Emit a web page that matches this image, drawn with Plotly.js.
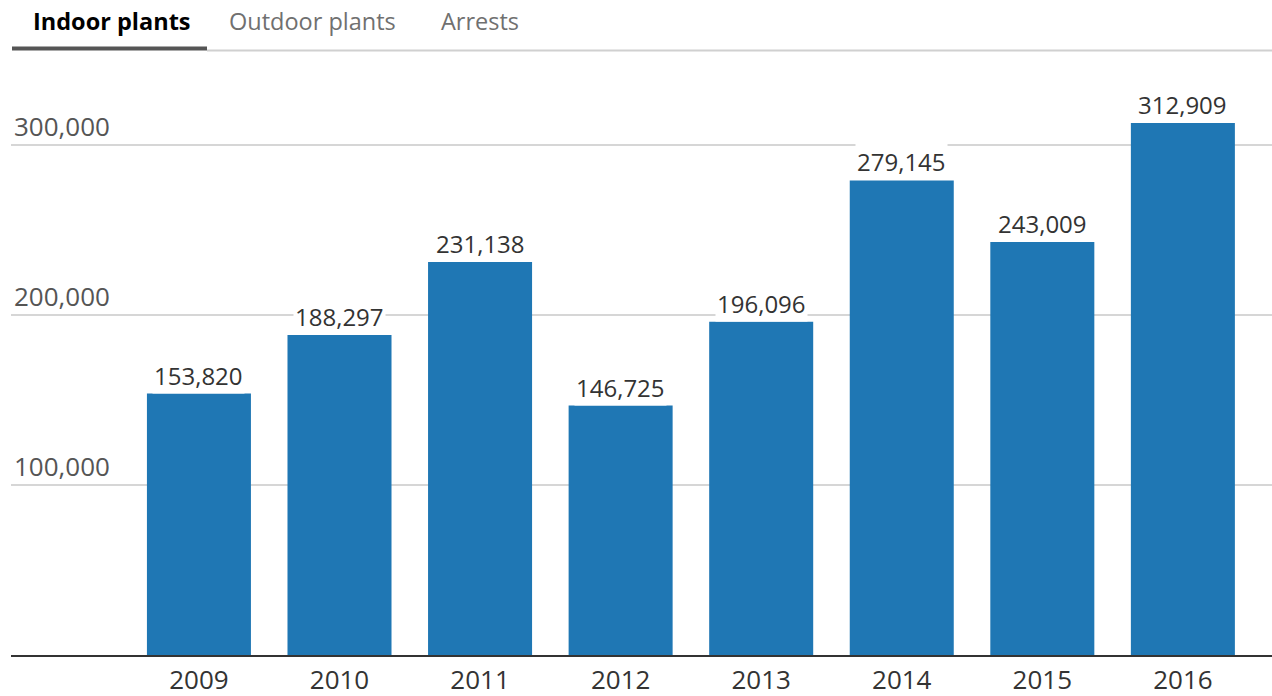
<!DOCTYPE html>
<html>
<head>
<meta charset="utf-8">
<script src="https://cdn.plot.ly/plotly-3.0.1.min.js"></script>
<style>
  html, body { margin: 0; padding: 0; background: #fff; }
  #chart { width: 1272px; height: 696px; }
</style>
</head>
<body>
<div id="chart"></div>
<script>
const years = ['2009', '2010', '2011', '2012', '2013', '2014', '2015', '2016'];
const indoorPlants = [153820, 188297, 231138, 146725, 196096, 279145, 243009, 312909];
const yTickValues = [100000, 200000, 300000];
const yTickLabels = ['100,000', '200,000', '300,000'];
const tabLabels = ['Indoor plants', 'Outdoor plants', 'Arrests'];

const FONT = 'Open Sans, sans-serif';
const W = 1272, H = 696, L = 11, R = 0, T = 90, B = 41;
const pw = W - L - R, ph = H - T - B;
const px = x => (x - L) / pw;
const py = y => (H - B - y) / ph;

function fmt(v) { return v.toLocaleString('en-US'); }

const trace = {
  type: 'bar',
  x: years,
  y: indoorPlants,
  marker: { color: '#1f77b4' },
  hoverinfo: 'none'
};

// category axis: annotation x given as the category's index on the axis
const labelAnnotations = years.map((yr, i) => ({
  x: i, y: indoorPlants[i], xref: 'x', yref: 'y',
  text: fmt(indoorPlants[i]),
  showarrow: false,
  yanchor: 'bottom',
  yshift: 0,
  bgcolor: '#ffffff',
  borderpad: 1,
  font: { family: FONT, size: 24, color: '#333333' }
}));

const tabX = [31, 227, 439];
const tabAnnotations = tabLabels.map((t, i) => ({
  x: px(tabX[i]), y: py(21), xref: 'paper', yref: 'paper',
  text: i === 0 ? '<b>' + t + '</b>' : t,
  showarrow: false, xanchor: 'left', yanchor: 'middle',
  font: { family: FONT, size: 23.5, color: i === 0 ? '#000000' : '#707070' }
}));

const layout = {
  width: W, height: H,
  margin: { l: L, r: R, t: T, b: B },
  paper_bgcolor: '#ffffff',
  plot_bgcolor: '#ffffff',
  showlegend: false,
  bargap: 0.26,
  font: { family: FONT, color: '#333333' },
  xaxis: {
    type: 'category',
    range: [-1.337, 7.634],
    showgrid: false,
    showline: true,
    linecolor: '#333333',
    linewidth: 2,
    ticks: '',
    ticklabelstandoff: 1,
    tickfont: { family: FONT, size: 26, color: '#333333' },
    fixedrange: true
  },
  yaxis: {
    range: [0, 332353],
    tickvals: yTickValues,
    ticktext: yTickLabels,
    ticklabelposition: 'inside top',
    showgrid: true,
    gridcolor: '#d6d6d6',
    gridwidth: 2,
    zeroline: false,
    showline: false,
    ticks: '',
    tickfont: { family: FONT, size: 26, color: '#555555' },
    fixedrange: true
  },
  annotations: labelAnnotations.concat(tabAnnotations),
  shapes: [
    { type: 'line', xref: 'paper', yref: 'paper', x0: px(207), x1: px(1272), y0: py(50.5), y1: py(50.5), line: { color: '#d0d0d0', width: 2 } },
    { type: 'line', xref: 'paper', yref: 'paper', x0: px(12), x1: px(207), y0: py(48.5), y1: py(48.5), line: { color: '#555555', width: 4 } }
  ]
};

Plotly.newPlot('chart', [trace], layout, { displayModeBar: false, staticPlot: true });
</script>
</body>
</html>
